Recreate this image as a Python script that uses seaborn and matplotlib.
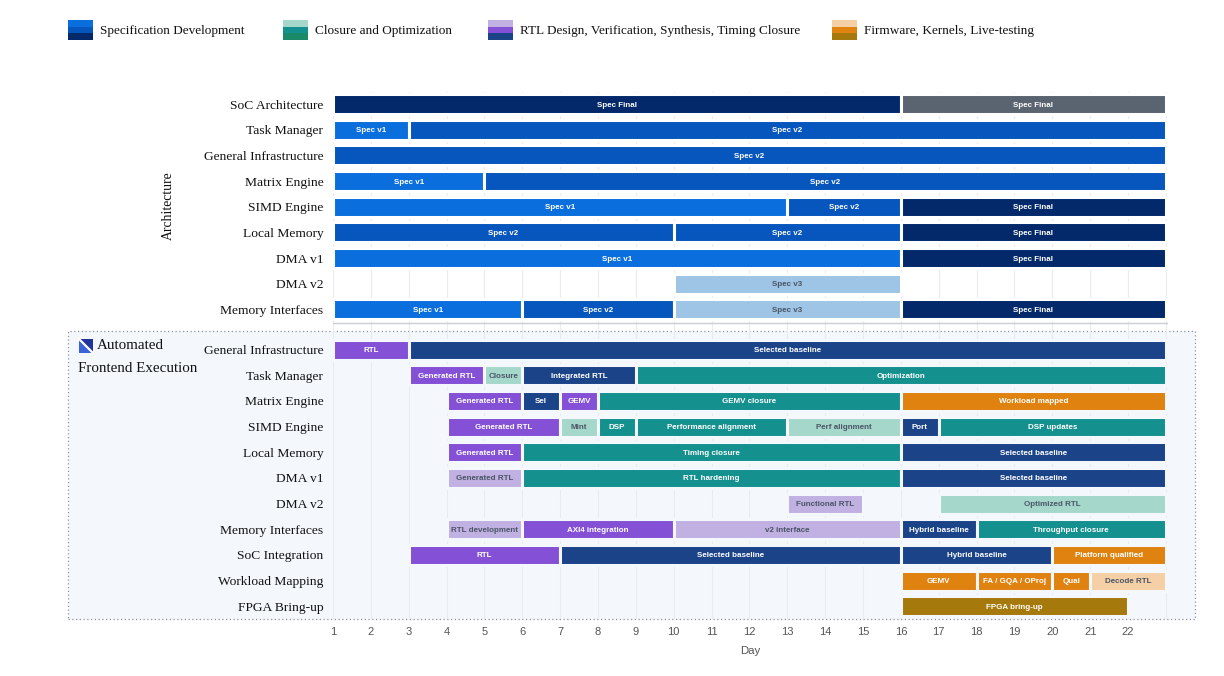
import numpy as np
import pandas as pd
import seaborn as sns
import matplotlib.pyplot as plt
from matplotlib.patches import Rectangle, Polygon

## rows of the two sections
arch_rows = ["SoC Architecture", "Task Manager", "General Infrastructure", "Matrix Engine",
             "SIMD Engine", "Local Memory", "DMA v1", "DMA v2", "Memory Interfaces"]
fe_rows = ["General Infrastructure", "Task Manager", "Matrix Engine", "SIMD Engine",
           "Local Memory", "DMA v1", "DMA v2", "Memory Interfaces", "SoC Integration",
           "Workload Mapping", "FPGA Bring-up"]

## architecture / spec tasks
arch_row = [0, 0, 1, 1, 2, 3, 3, 4, 4, 4, 5, 5, 5, 6, 6, 7, 8, 8, 8, 8]
arch_start = [1, 16, 1, 3, 1, 1, 5, 1, 13, 16, 1, 10, 16, 1, 16, 10, 1, 6, 10, 16]
arch_end = [16, 23, 3, 23, 23, 5, 23, 13, 16, 23, 10, 16, 23, 16, 23, 16, 6, 10, 16, 23]
arch_label = ["Spec Final", "Spec Final", "Spec v1", "Spec v2", "Spec v2", "Spec v1", "Spec v2",
              "Spec v1", "Spec v2", "Spec Final", "Spec v2", "Spec v2", "Spec Final",
              "Spec v1", "Spec Final", "Spec v3", "Spec v1", "Spec v2", "Spec v3", "Spec Final"]
arch_kind = ["final", "frozen", "v1", "v2", "v2", "v1", "v2", "v1", "v2", "final", "v2", "v2",
             "final", "v1", "final", "v3", "v1", "v2", "v3", "final"]

## automated frontend tasks
fe_row = [0, 0,
          1, 1, 1, 1,
          2, 2, 2, 2, 2,
          3, 3, 3, 3, 3, 3, 3,
          4, 4, 4,
          5, 5, 5,
          6, 6,
          7, 7, 7, 7, 7,
          8, 8, 8, 8,
          9, 9, 9, 9,
          10]
fe_start = [1, 3,
            3, 5, 6, 9,
            4, 6, 7, 8, 16,
            4, 7, 8, 9, 13, 16, 17,
            4, 6, 16,
            4, 6, 16,
            13, 17,
            4, 6, 10, 16, 18,
            3, 7, 16, 20,
            16, 18, 20, 21,
            16]
fe_end = [3, 23,
          5, 6, 9, 23,
          6, 7, 8, 16, 23,
          7, 8, 9, 13, 16, 17, 23,
          6, 16, 23,
          6, 16, 23,
          15, 23,
          6, 10, 16, 18, 23,
          7, 16, 20, 23,
          18, 20, 21, 23,
          22]
fe_label = ["RTL", "Selected baseline",
            "Generated RTL", "Closure", "Integrated RTL", "Optimization",
            "Generated RTL", "Sel", "GEMV", "GEMV closure", "Workload mapped",
            "Generated RTL", "Mint", "DSP", "Performance alignment", "Perf alignment", "Port", "DSP updates",
            "Generated RTL", "Timing closure", "Selected baseline",
            "Generated RTL", "RTL hardening", "Selected baseline",
            "Functional RTL", "Optimized RTL",
            "RTL development", "AXI4 integration", "v2 interface", "Hybrid baseline", "Throughput closure",
            "RTL", "Selected baseline", "Hybrid baseline", "Platform qualified",
            "GEMV", "FA / GQA / OProj", "Qual", "Decode RTL",
            "FPGA bring-up"]
fe_kind = ["rtl", "base",
           "rtl", "teal_l", "base", "teal",
           "rtl", "base", "rtl", "teal", "orange",
           "rtl", "teal_l", "teal", "teal", "teal_l", "base", "teal",
           "rtl", "teal", "base",
           "rtl_l", "teal", "base",
           "rtl_l", "teal_l",
           "rtl_l", "rtl", "rtl_l", "base", "teal",
           "rtl", "base", "base", "orange",
           "orange", "orange", "orange", "orange_l",
           "gold"]

legend_labels = ["Specification Development", "Closure and Optimization",
                 "RTL Design, Verification, Synthesis, Timing Closure", "Firmware, Kernels, Live-testing"]

colors = {"v1": "#0a6fdc", "v2": "#0656bd", "final": "#03296b", "v3": "#9ec5e5", "frozen": "#5a6370",
          "rtl": "#8450d6", "rtl_l": "#c1b1e3", "base": "#1b4388",
          "teal": "#14908e", "teal_l": "#a5d8cb", "green": "#1a8a68",
          "orange": "#e0820f", "orange_l": "#f5d0a6", "gold": "#a6790d"}
light = {"v3", "rtl_l", "teal_l", "orange_l"}
legend_swatch = [["v1", "v2", "final"], ["teal_l", "teal", "green"],
                 ["rtl_l", "rtl", "base"], ["orange_l", "orange", "gold"]]

sns.set_theme(style="white")
plt.rcParams['font.family'] = ['Liberation Sans', 'DejaVu Sans']

W, H = 1224, 676
fe_offset = 9.57
bg_fe = "#f4f8fd"

arch = pd.DataFrame({"y": arch_row, "start": arch_start, "end": arch_end,
                     "label": arch_label, "kind": arch_kind})
fe = pd.DataFrame({"y": np.array(fe_row) + fe_offset, "start": fe_start, "end": fe_end,
                   "label": fe_label, "kind": fe_kind})

fig = plt.figure(figsize=(W / 100, H / 100), dpi=100)
fig.patch.set_facecolor("white")

# dotted box behind the frontend section
fig.patches.append(Rectangle((68 / W, 1 - 619 / H), (1195 - 68) / W, (619 - 331) / H,
                             transform=fig.transFigure, facecolor=bg_fe, edgecolor="#8a93a0",
                             linestyle=(0, (1, 2)), lw=0.9, zorder=0))

ax = fig.add_axes([333 / W, 1 - 619 / H, (1167.8 - 333) / W, (619 - 92) / H])
ax.set_facecolor("none")
ax.set_zorder(2)


def draw(df, edge):
    ax.barh(df["y"], df["end"] - df["start"], left=df["start"], height=0.78,
            color=[colors[k] for k in df["kind"]], edgecolor=edge, linewidth=2.2, zorder=3)
    for _, r in df.iterrows():
        ax.text((r["start"] + r["end"]) / 2, r["y"], r["label"], ha="center", va="center_baseline",
                fontsize=5.8, fontweight="bold", zorder=4,
                color="#4a5566" if r["kind"] in light else "white")


draw(arch, "white")
draw(fe, bg_fe)

ax.set_xlim(1, 23.05)
ax.set_ylim(fe_offset + len(fe_rows) - 0.5, -0.47)
ax.set_xticks(range(1, 23))
ax.grid(False)
for d in range(1, 24):
    ax.axvline(d, color="#e8ebf1", lw=0.8, zorder=1)
ax.axhline(8.53, color="#c9ced6", lw=1.0, zorder=2)

ypos = list(range(len(arch_rows))) + list(np.arange(len(fe_rows)) + fe_offset)
ax.set_yticks(ypos, arch_rows + fe_rows, fontfamily="Liberation Serif", fontsize=9.7, color="#111")
ax.tick_params(axis="y", length=0, pad=7)
ax.tick_params(axis="x", length=2, color="#c8ccd2", labelsize=8, labelcolor="#555", pad=4)
for s in ax.spines.values():
    s.set_visible(False)
ax.set_xlabel("Day", fontsize=8.2, color="#555", labelpad=6)

fig.text(168 / W, 1 - 206 / H, "Architecture", rotation=90, ha="center", va="center",
         fontfamily="Liberation Serif", fontsize=9.8, color="#111")

# legend with three-tone swatches
sw_x = [68, 283, 488, 832]
for x0, lab, sw in zip(sw_x, legend_labels, legend_swatch):
    for i, k in enumerate(sw):
        fig.patches.append(Rectangle((x0 / W, 1 - (20 + 6.7 * (i + 1)) / H), 25 / W, 6.7 / H,
                                     transform=fig.transFigure, facecolor=colors[k], lw=0))
    fig.text((x0 + 32) / W, 1 - 31 / H, lab, ha="left", va="center",
             fontfamily="Liberation Serif", fontsize=9.5, color="#111")

# section title with small logo
lx, ly, ls = 79 / W, 1 - 353 / H, 14
fig.patches.append(Polygon([(lx, ly), (lx, ly + ls / H), (lx + ls / W, ly)], closed=True,
                           transform=fig.transFigure, facecolor="#3a63d8", lw=0))
fig.patches.append(Polygon([(lx, ly + ls / H), (lx + ls / W, ly + ls / H), (lx + ls / W, ly)],
                           closed=True, transform=fig.transFigure, facecolor="#22339a", lw=0))
fig.lines.append(plt.Line2D([lx, lx + ls / W], [ly + ls / H, ly], transform=fig.transFigure,
                            color="white", lw=1.6))
fig.text(97 / W, 1 - 346 / H, "Automated", ha="left", va="center",
         fontfamily="Liberation Serif", fontsize=10.8, color="#111")
fig.text(78 / W, 1 - 368 / H, "Frontend Execution", ha="left", va="center",
         fontfamily="Liberation Serif", fontsize=10.8, color="#111")

fig.savefig("out.png", dpi=100)
